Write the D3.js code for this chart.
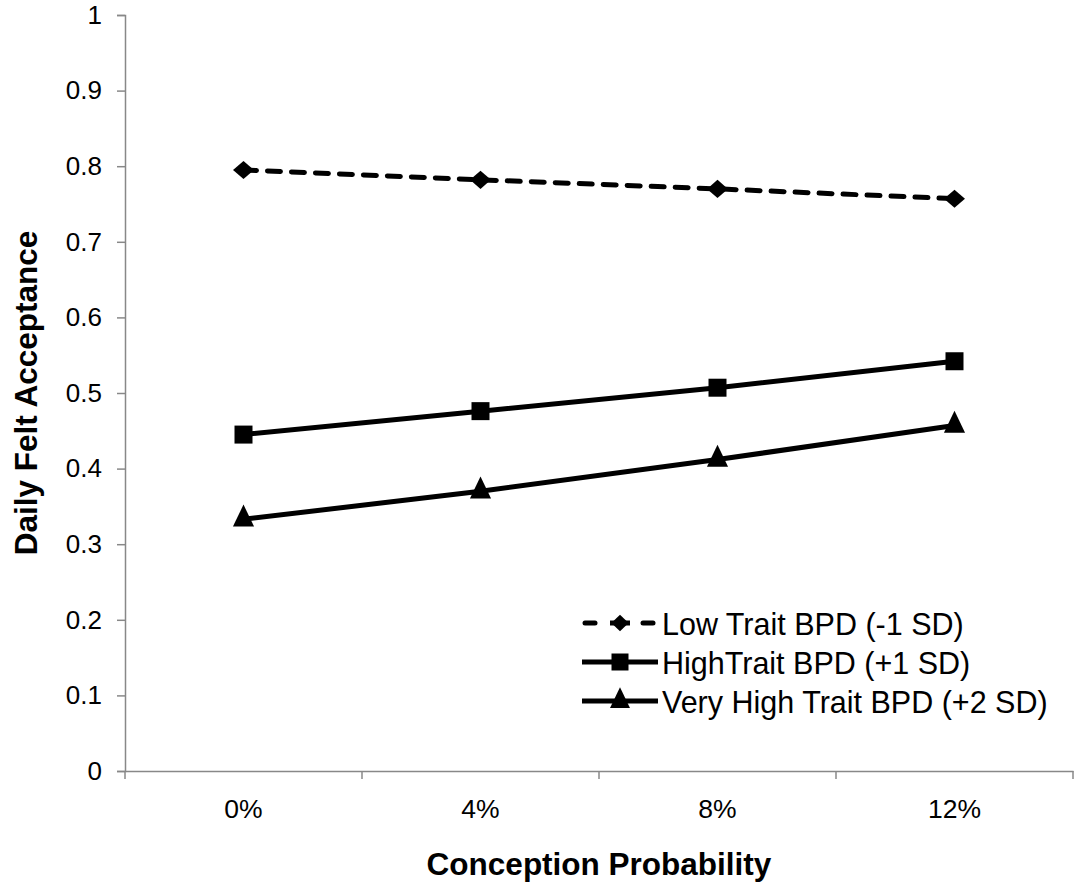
<!DOCTYPE html>
<html>
<head>
<meta charset="utf-8">
<script src="https://cdn.jsdelivr.net/npm/d3@7"></script>
<style>
  body { margin: 0; background: #fff; }
  svg text { font-family: "Liberation Sans", Arial, sans-serif; fill: #000; }
</style>
</head>
<body>
<div id="chart"></div>
<script>
const categories = ["0%", "4%", "8%", "12%"];
const lowTrait = [0.795, 0.782, 0.770, 0.757];
const highTrait = [0.445, 0.476, 0.507, 0.542];
const veryHighTrait = [0.333, 0.370, 0.412, 0.457];
const seriesNames = ["Low Trait BPD (-1 SD)", "HighTrait BPD (+1 SD)", "Very High Trait BPD (+2 SD)"];
const yTicks = [0, 0.1, 0.2, 0.3, 0.4, 0.5, 0.6, 0.7, 0.8, 0.9, 1];

const width = 1080, height = 888;
const margin = { top: 15, right: 7, bottom: 117, left: 125 };
const innerW = width - margin.left - margin.right;
const innerH = height - margin.top - margin.bottom;

const svg = d3.select("#chart").append("svg")
  .attr("width", width)
  .attr("height", height);

const g = svg.append("g")
  .attr("transform", `translate(${margin.left},${margin.top})`);

const x = d3.scaleBand().domain(categories).range([0, innerW]);
const y = d3.scaleLinear().domain([0, 1]).range([innerH, 0]);

// y axis
const yAxis = g.append("g")
  .call(d3.axisLeft(y).tickValues(yTicks).tickSize(8).tickPadding(15)
    .tickFormat(d => d === 0 || d === 1 ? d3.format("d")(d) : d3.format(".1f")(d)));
yAxis.select(".domain").attr("stroke", "#888").attr("stroke-width", 1.5);
yAxis.selectAll(".tick line").attr("stroke", "#888").attr("stroke-width", 1.5);
yAxis.selectAll(".tick text").style("font-size", "26px");

// x axis
const xAxis = g.append("g")
  .attr("transform", `translate(0,${innerH})`)
  .call(d3.axisBottom(x).tickSize(0).tickPadding(28));
xAxis.select(".domain").attr("stroke", "#888").attr("stroke-width", 1.5);
xAxis.selectAll(".tick line").remove();
xAxis.selectAll(".tick text").style("font-size", "26.5px");
const boundaries = categories.map(c => x(c)).concat([innerW]);
xAxis.selectAll(".sep")
  .data(boundaries)
  .enter().append("line")
  .attr("x1", d => d).attr("x2", d => d)
  .attr("y1", 0).attr("y2", 8)
  .attr("stroke", "#888").attr("stroke-width", 1.5);

// axis titles
svg.append("text")
  .attr("transform", `translate(37,${margin.top + innerH / 2}) rotate(-90)`)
  .attr("text-anchor", "middle")
  .style("font-size", "31.5px").style("font-weight", "bold")
  .text("Daily Felt Acceptance");

svg.append("text")
  .attr("x", margin.left + innerW / 2)
  .attr("y", 875)
  .attr("text-anchor", "middle")
  .style("font-size", "31.5px").style("font-weight", "bold")
  .text("Conception Probability");

const cx = c => x(c) + x.bandwidth() / 2;
const line = d3.line().x((d, i) => cx(categories[i])).y(d => y(d));

const series = [
  { name: seriesNames[0], values: lowTrait, dash: "13,11", symbol: d3.symbolDiamond, size: 95, sx: 2, lsize: 80, lsx: 1.8 },
  { name: seriesNames[1], values: highTrait, dash: null, symbol: d3.symbolSquare, size: 324, sx: 1, lsize: 289, lsx: 1 },
  { name: seriesNames[2], values: veryHighTrait, dash: null, symbol: d3.symbolTriangle, size: 280, sx: 0.83, lsize: 250, lsx: 0.83 }
];

series.forEach(s => {
  g.append("path")
    .datum(s.values)
    .attr("fill", "none")
    .attr("stroke", "#000")
    .attr("stroke-width", 5)
    .attr("stroke-linecap", "round")
    .attr("stroke-dasharray", s.dash)
    .attr("d", line);
  g.selectAll(null)
    .data(s.values)
    .enter().append("path")
    .attr("transform", (d, i) => `translate(${cx(categories[i])},${y(d)}) scale(${s.sx},1)`)
    .attr("d", d3.symbol().type(s.symbol).size(s.size))
    .attr("fill", "#000");
});

// legend
const legend = svg.append("g").attr("transform", "translate(582,0)");
const legendY = [623, 662, 701];
series.forEach((s, i) => {
  const ly = legendY[i];
  const item = legend.append("g");
  if (s.dash) {
    item.append("line").attr("x1", 3).attr("x2", 13).attr("y1", ly).attr("y2", ly)
      .attr("stroke", "#000").attr("stroke-width", 5).attr("stroke-linecap", "round");
    item.append("line").attr("x1", 61).attr("x2", 71).attr("y1", ly).attr("y2", ly)
      .attr("stroke", "#000").attr("stroke-width", 5).attr("stroke-linecap", "round");
    item.append("line").attr("x1", 28).attr("x2", 48).attr("y1", ly).attr("y2", ly)
      .attr("stroke", "#000").attr("stroke-width", 5);
  } else {
    item.append("line").attr("x1", 0).attr("x2", 76).attr("y1", ly).attr("y2", ly)
      .attr("stroke", "#000").attr("stroke-width", 5);
  }
  item.append("path")
    .attr("transform", `translate(38,${ly}) scale(${s.lsx},1)`)
    .attr("d", d3.symbol().type(s.symbol).size(s.lsize))
    .attr("fill", "#000");
  item.append("text")
    .attr("x", 80).attr("y", ly + 12)
    .style("font-size", "30.5px")
    .text(s.name);
});
</script>
</body>
</html>
